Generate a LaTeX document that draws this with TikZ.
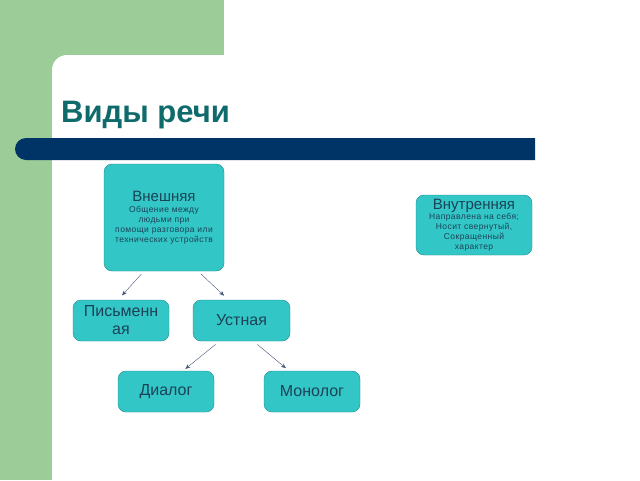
\documentclass[tikz,border=0pt]{standalone}
\usepackage{fontspec}
\setmainfont{Liberation Sans}
\newfontfamily\notefam[LetterSpace=5]{Liberation Sans}
\usetikzlibrary{arrows.meta}
\usepackage{xcolor}
\definecolor{slidegreen}{HTML}{9CCC98}
\definecolor{barblue}{HTML}{003366}
\definecolor{titleteal}{HTML}{0F6B6B}
\definecolor{boxfill}{HTML}{33C6C6}
\definecolor{boxline}{HTML}{1E8A8F}
\definecolor{boxtext}{HTML}{1B4257}
\definecolor{arrowgray}{HTML}{44557A}
\newcommand{\boxhead}[1]{{\rmfamily\fontsize{15}{17}\selectfont #1}}

\begin{document}
\begin{tikzpicture}[x=1pt, y=-1pt,
  box/.style={draw=boxline, fill=boxfill, rounded corners=8pt, text=boxtext,
    align=center, inner sep=1pt, font=\fontsize{16}{18}\selectfont},
  note/.style={font=\notefam\fontsize{8.5}{10}\selectfont},
  link/.style={arrowgray, -{Stealth[length=5pt,width=4pt]}}]
\useasboundingbox (0,0) rectangle (640,480);
% background
\fill[slidegreen] (0,0) rectangle (224,480);
\fill[white] (52,480) -- (52,70) arc (180:270:15) -- (224,55) -- (224,480) -- cycle;
\fill[white] (224,0) rectangle (640,480);
\fill[barblue] (535,138) -- (26,138) arc (270:90:11) -- (535,160) -- cycle;
\node[anchor=base west, text=titleteal, inner sep=0, font=\fontsize{31}{33}\selectfont\bfseries]
  (title) at (61,122) {Виды речи};
% boxes
\node[box, note, minimum width=120pt, minimum height=107pt] (vnesh) at (164,217.5)
  {\boxhead{Внешняя}\\[1pt]Общение между\\людьми при\\помощи разговора или\\технических устройств};
\node[box, note, minimum width=116pt, minimum height=60pt] (vnutr) at (474,225)
  {\boxhead{Внутренняя}\\Направлена на себя;\\Носит свернутый,\\Сокращенный\\характер};
\node[box, minimum width=96pt, minimum height=41pt] (pis) at (121,320.5) {Письменн\\ая};
\node[box, minimum width=97pt, minimum height=41pt] (ust) at (241.5,320.5) {Устная};
\node[box, minimum width=96pt, minimum height=41pt] (dial) at (166,391.5) {Диалог};
\node[box, minimum width=96pt, minimum height=41pt] (monol) at (312,391.5) {Монолог};
% arrows
\draw[link, shorten <=4pt, shorten >=6pt] ([xshift=-20pt]vnesh.south) -- ([xshift=-3pt]pis.north);
\draw[link, shorten <=4pt, shorten >=6pt] ([xshift=34pt]vnesh.south) -- ([xshift=-13pt]ust.north);
\draw[link, shorten <=5pt, shorten >=3pt] ([xshift=-22pt]ust.south) -- ([xshift=17pt]dial.north);
\draw[link, shorten <=5pt, shorten >=4pt] ([xshift=12pt]ust.south) -- ([xshift=-23pt]monol.north);
\end{tikzpicture}
\end{document}
